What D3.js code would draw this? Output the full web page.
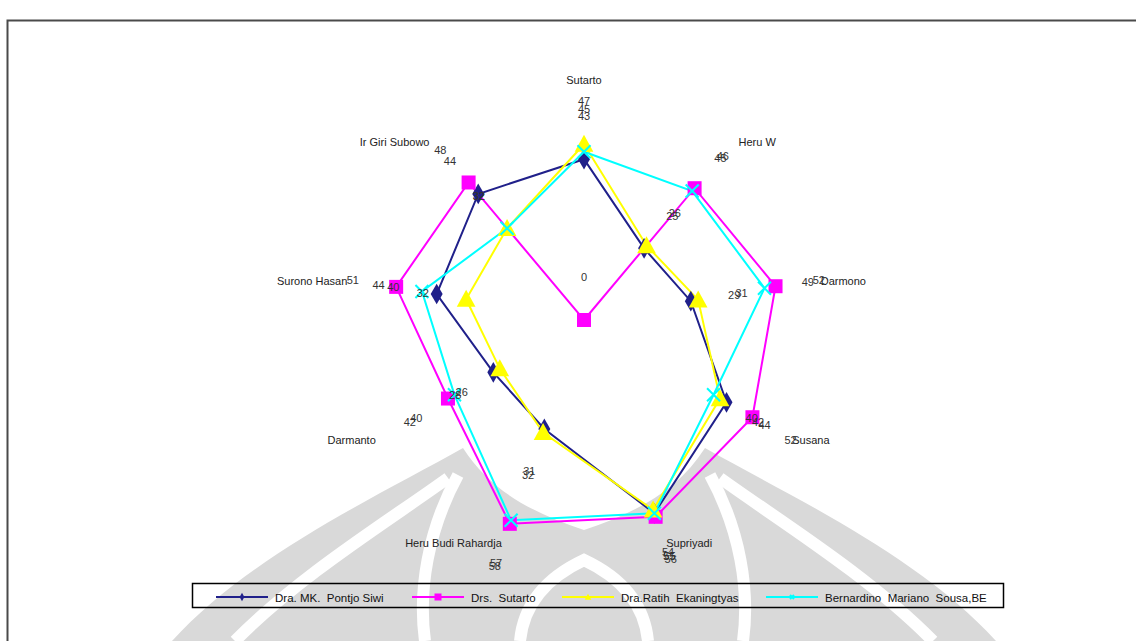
<!DOCTYPE html>
<html>
<head>
<meta charset="utf-8">
<script src="https://cdn.jsdelivr.net/npm/d3@7"></script>
<style>
  html, body { margin: 0; padding: 0; background: #fff; }
  svg { display: block; font-family: "Liberation Sans", Arial, sans-serif; }
</style>
</head>
<body>
<svg id="chart" width="1136" height="641"></svg>
<script>
// Radar categories, clockwise from the top
const categories = ["Sutarto", "Heru W", "Darmono", "Susana", "Supriyadi",
  "Heru Budi Rahardja", "Darmanto", "Surono Hasan", "Ir Giri Subowo"];

// Scores per person, in category order
const pontjoSiwi   = [43, 25, 29, 44, 55, 31, 28, 40, 44];
const sutarto      = [0, 46, 52, 52, 56, 58, 42, 51, 48];
const ratih        = [47, 26, 31, 42, 54, 32, 26, 32, 32];
const bernardino   = [45, 45, 49, 40, 55, 57, 40, 44, 32];

const seriesNames = ["Dra. MK.  Pontjo Siwi", "Drs.  Sutarto",
  "Dra.Ratih  Ekaningtyas", "Bernardino  Mariano  Sousa,BE"];

const axisMax = 60;

const series = [
  { name: seriesNames[0], values: pontjoSiwi, color: "#20208a", marker: "diamond" },
  { name: seriesNames[1], values: sutarto,    color: "#ff00ff", marker: "square" },
  { name: seriesNames[2], values: ratih,      color: "#ffff00", marker: "triangle" },
  { name: seriesNames[3], values: bernardino, color: "#00ffff", marker: "cross" }
];

const svg = d3.select("#chart");
const W = 1136, H = 641;
const cx = 584, cy = 320;

// --- background emblem (light grey) ---
const bg = svg.append("g").attr("class", "emblem");
const grey = "#d9d9d9";
bg.append("path").attr("fill", grey)
  .attr("d", "M172 641 C250 555 380 495 463 448 C490 490 530 512 584 530 C638 512 678 490 705 448 C788 495 918 555 996 641 Z");
const whiteBands = [
  "M235 641 C300 575 390 520 448 478",
  "M425 641 C418 590 428 530 458 475",
  "M743 641 C750 590 740 530 710 475",
  "M933 641 C868 575 778 520 720 478",
  "M520 641 C524 600 552 575 584 560 C616 575 644 600 648 641"
];
bg.selectAll("path.band").data(whiteBands).join("path")
  .attr("class", "band").attr("d", d => d)
  .attr("fill", "none").attr("stroke", "#fff").attr("stroke-width", 12);

// --- chart frame ---
svg.append("rect")
  .attr("x", 7.5).attr("y", 20.5).attr("width", W + 10).attr("height", H + 10)
  .attr("fill", "none").attr("stroke", "#4a4a4a").attr("stroke-width", 2);

// --- scales ---
const r = d3.scaleLinear().domain([0, axisMax]).range([0, 224.4]);
const angle = d3.scaleLinear().domain([0, categories.length]).range([0, 2 * Math.PI]);
const px = (i, rad) => cx + rad * Math.sin(angle(i));
const py = (i, rad) => cy - rad * Math.cos(angle(i));

// --- category labels ---
const catR = r(axisMax) + 16;
svg.append("g").selectAll("text").data(categories).join("text")
  .attr("x", (d, i) => px(i, catR))
  .attr("y", (d, i) => {
    const s = Math.sin(angle(i)), c = Math.cos(angle(i));
    return py(i, catR) + (Math.abs(s) < 0.1 ? 0 : 2 + 5 * c);
  })
  .attr("text-anchor", (d, i) => {
    const s = Math.sin(angle(i));
    return Math.abs(s) < 0.1 ? "middle" : (s > 0 ? "start" : "end");
  })
  .attr("dominant-baseline", "central")
  .attr("font-size", 11).attr("fill", "#222")
  .text(d => d);

// --- series lines ---
const radial = d3.lineRadial()
  .angle((d, i) => angle(i))
  .radius(d => r(d))
  .curve(d3.curveLinearClosed);

const plot = svg.append("g").attr("transform", `translate(${cx},${cy})`);
series.forEach(s => {
  plot.append("path")
    .attr("d", radial(s.values))
    .attr("fill", "none")
    .attr("stroke", s.color)
    .attr("stroke-width", 2);
});

// --- markers ---
function drawMarker(g, type, x, y, color, size) {
  if (type === "diamond") {
    g.append("path").attr("fill", color)
      .attr("d", d3.symbol(d3.symbolDiamond, size * size * 0.55)())
      .attr("transform", `translate(${x},${y})`);
  } else if (type === "square") {
    g.append("rect").attr("fill", color)
      .attr("x", x - size / 2).attr("y", y - size / 2)
      .attr("width", size).attr("height", size);
  } else if (type === "triangle") {
    const h = size;
    g.append("path").attr("fill", color)
      .attr("d", `M${x},${y - h * 0.55} L${x + h * 0.55},${y + h * 0.45} L${x - h * 0.55},${y + h * 0.45} Z`);
  } else if (type === "cross") {
    const a = size / 2;
    g.append("path").attr("stroke", color).attr("stroke-width", 2).attr("fill", "none")
      .attr("d", `M${x - a},${y - a} L${x + a},${y + a} M${x - a},${y + a} L${x + a},${y - a}`);
  }
}

const markerSize = { diamond: 15, square: 14, triangle: 17, cross: 13 };
const markers = svg.append("g");
series.forEach(s => {
  s.values.forEach((v, i) => {
    drawMarker(markers, s.marker, px(i, r(v)), py(i, r(v)), s.color, markerSize[s.marker]);
  });
});

// --- value labels, placed just outside each point ---
const labels = svg.append("g").attr("font-size", 11).attr("fill", "#333");
series.forEach(s => {
  s.values.forEach((v, i) => {
    const rad = r(v) + 44;
    labels.append("text")
      .attr("x", px(i, rad)).attr("y", py(i, rad) + 1)
      .attr("text-anchor", "middle").attr("dominant-baseline", "central")
      .text(v);
  });
});

// --- legend ---
const legend = svg.append("g");
legend.append("rect")
  .attr("x", 192.5).attr("y", 583.5).attr("width", 811).attr("height", 24)
  .attr("fill", "none").attr("stroke", "#000").attr("stroke-width", 1.5);

const legendX = [216, 412, 562, 766];
const legendY = 597;
series.forEach((s, k) => {
  const x0 = legendX[k];
  legend.append("line")
    .attr("x1", x0).attr("x2", x0 + 52).attr("y1", legendY).attr("y2", legendY)
    .attr("stroke", s.color).attr("stroke-width", 2);
  const mx = x0 + 26;
  if (s.marker === "diamond") drawMarker(legend, "diamond", mx, legendY, s.color, 6);
  if (s.marker === "square") drawMarker(legend, "square", mx, legendY, s.color, 7);
  if (s.marker === "triangle") drawMarker(legend, "triangle", mx, legendY, s.color, 6);
  if (s.marker === "cross") drawMarker(legend, "cross", mx, legendY, s.color, 4);
  legend.append("text")
    .attr("x", x0 + 59).attr("y", legendY + 1)
    .attr("dominant-baseline", "central")
    .attr("font-size", 11.5).attr("fill", "#111")
    .attr("xml:space", "preserve").style("white-space", "pre")
    .text(s.name);
});
</script>
</body>
</html>
